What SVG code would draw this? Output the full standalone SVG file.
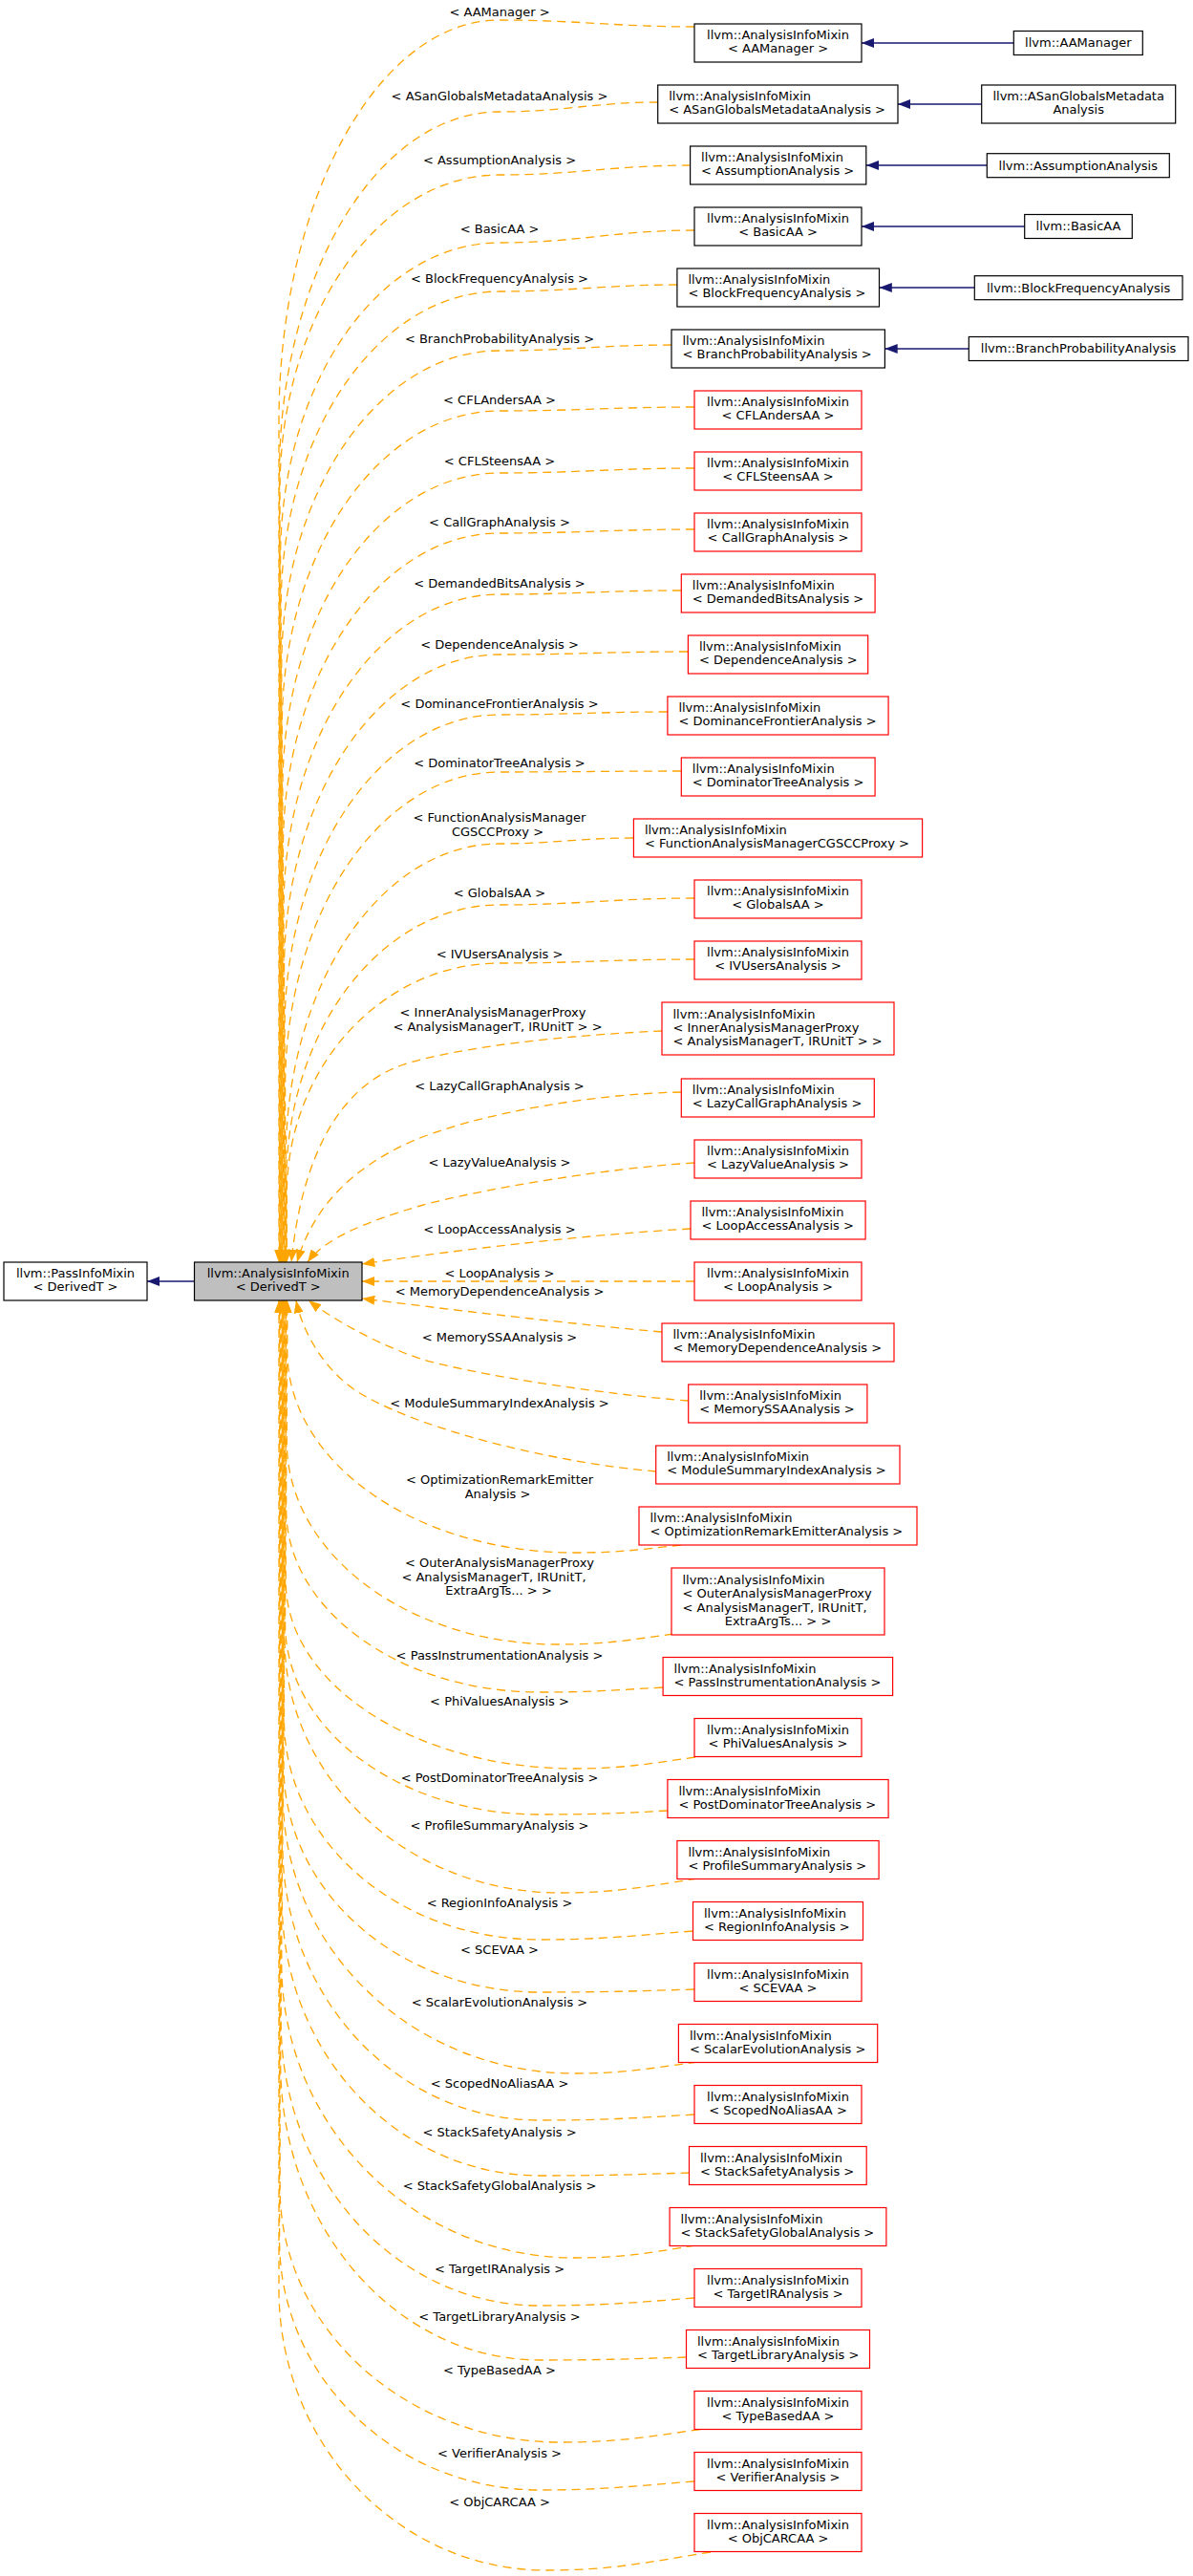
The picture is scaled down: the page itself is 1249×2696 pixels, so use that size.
<svg xmlns="http://www.w3.org/2000/svg" width="1249" height="2696" viewBox="0 0 1249 2696">
<style>
text{font-family:"DejaVu Sans","Liberation Sans",sans-serif;font-size:13px;fill:#000}
.m{text-anchor:middle}
.nb{fill:#fff;stroke:#000;stroke-width:1.2}
.nr{fill:#fff;stroke:#f00;stroke-width:1.2}
.nc{fill:#bfbfbf;stroke:#000;stroke-width:1.2}
.e{fill:none;stroke:#ffa500;stroke-width:1.3;stroke-dasharray:9,6;marker-end:url(#ao)}
.b{fill:none;stroke:#191970;stroke-width:1.3;marker-end:url(#ab)}
</style>
<defs>
<marker id="ao" viewBox="0 0 14 10" refX="13.3" refY="5" markerWidth="14" markerHeight="10" markerUnits="userSpaceOnUse" orient="auto"><path d="M0,0 L13.3,5 L0,10 Z" fill="#ffa500"/></marker>
<marker id="ab" viewBox="0 0 14 10" refX="13.3" refY="5" markerWidth="14" markerHeight="10" markerUnits="userSpaceOnUse" orient="auto"><path d="M0,0 L13.3,5 L0,10 Z" fill="#191970"/></marker>
</defs>
<rect width="1249" height="2696" fill="#fff"/>
<g id="connectors">
<path class="e" d="M727,28 C645,28 605,21 523,21 C396,21 292,209 292,441 L292,1321"/>
<path class="e" d="M689,107 C623,107 589,117 523,117 C396,117 292.5,287 292.5,497 L292.5,1321"/>
<path class="e" d="M723,173 C643,173 603,183 523,183 C396,183 293,331 293,513 L293,1321"/>
<path class="e" d="M727,241 C645,241 605,254 523,254 C396,254 293.6,402 293.6,584 L293.6,1321"/>
<path class="e" d="M709,298 C635,298 597,305 523,305 C397,305 294.2,453 294.2,635 L294.2,1321"/>
<path class="e" d="M703,361 C631,361 595,367 523,367 C397,367 294.8,515 294.8,697 L294.8,1321"/>
<path class="e" d="M727,426 C645,426 605,430 523,430 C397,430 295.3,578 295.3,760 L295.3,1321"/>
<path class="e" d="M727,490 C645,490 605,495 523,495 C397,495 295.9,643 295.9,825 L295.9,1321"/>
<path class="e" d="M727,554 C645,554 605,558 523,558 C398,558 296.4,706 296.4,888 L296.4,1321"/>
<path class="e" d="M713,618 C637,618 599,622 523,622 C398,622 297,770 297,952 L297,1321"/>
<path class="e" d="M720,682 C641,682 602,685 523,685 C398,685 297.5,833 297.5,1015 L297.5,1321"/>
<path class="e" d="M699,745 C629,745 593,748 523,748 C398,748 298,896 298,1078 L298,1321"/>
<path class="e" d="M713,807 C637,807 599,808 523,808 C399,808 298.6,956 298.6,1138 L298.6,1321"/>
<path class="e" d="M663,877 C607,877 579,883 523,883 C399,883 299.2,1031 299.2,1213 L299.2,1321"/>
<path class="e" d="M727,940 C645,940 605,947 523,947 C400,947 299.7,1077 299.7,1238 L299.7,1321"/>
<path class="e" d="M727,1004 C645,1004 605,1008 523,1008 C400,1008 300.3,1117 300.3,1250 L300.3,1321"/>
<path class="e" d="M693,1079 C600,1083 480,1095 420,1115 C350,1140 315,1220 305,1321"/>
<path class="e" d="M713,1143 C620,1145 500,1165 430,1195 C370,1222 328,1262 311,1321"/>
<path class="e" d="M727,1217 C640,1222 500,1245 440,1262 C385,1278 340,1296 322,1321"/>
<path class="e" d="M723,1286 C600,1293 450,1312 379,1323"/>
<path class="e" d="M727,1341 L379,1341"/>
<path class="e" d="M693,1394 C600,1386 450,1368 379,1359"/>
<path class="e" d="M721,1466 C640,1460 500,1440 440,1422 C390,1405 345,1378 323,1361"/>
<path class="e" d="M687,1540 C590,1532 450,1500 380,1460 C345,1440 318,1400 310,1361"/>
<path class="e" d="M713,1617 C669,1622 646,1625 602,1625 C436,1625 300.8,1531 300.8,1414 L300.8,1361"/>
<path class="e" d="M705,1710 C656,1717 632,1721 583.5,1721 C427,1721 300.3,1626 300.3,1509 L300.3,1361"/>
<path class="e" d="M694,1766 C642,1769 617,1771 565,1771 C419,1771 299.7,1685 299.7,1580 L299.7,1361"/>
<path class="e" d="M728,1839 C678,1846 652,1851 602,1851 C435,1851 299.2,1763 299.2,1655 L299.2,1361"/>
<path class="e" d="M699,1895 C645,1898 619,1899 565,1899 C418,1899 298.6,1810 298.6,1699 L298.6,1361"/>
<path class="e" d="M730,1966 C673,1975 644,1981 587,1981 C428,1981 298,1862 298,1715 L298,1361"/>
<path class="e" d="M725.5,2021 C661,2026 629,2030 565,2030 C417,2030 297.5,1927 297.5,1800 L297.5,1361"/>
<path class="e" d="M727,2082 C662,2084 630,2085 565,2085 C417,2085 297,1979 297,1848 L297,1361"/>
<path class="e" d="M730,2158 C679,2165 653,2170 602,2170 C433,2170 296.4,2040 296.4,1880 L296.4,1361"/>
<path class="e" d="M727,2213 C662,2217 630,2219 565,2219 C416,2219 295.9,2090 295.9,1931 L295.9,1361"/>
<path class="e" d="M722,2274 C659,2276 628,2277 565,2277 C416,2277 295.3,2148 295.3,1990 L295.3,1361"/>
<path class="e" d="M728,2350 C678,2358 652,2363 602,2363 C432,2363 294.8,2225 294.8,2055 L294.8,1361"/>
<path class="e" d="M727,2405 C662,2410 630,2413 565,2413 C415,2413 294.2,2280 294.2,2116 L294.2,1361"/>
<path class="e" d="M718.5,2467 C657,2469 626,2470 565,2470 C415,2470 293.7,2331 293.7,2160 L293.7,1361"/>
<path class="e" d="M733,2542.5 C675,2551 645,2556 587,2556 C425,2556 293.1,2437 293.1,2290 L293.1,1361"/>
<path class="e" d="M727,2597 C662,2602 630,2606 565,2606 C415,2606 292.6,2489 292.6,2345 L292.6,1361"/>
<path class="e" d="M744,2671 C675,2682 641,2690 572,2690 C417,2690 292,2558 292,2396 L292,1361"/>
<path class="b" d="M1061,45 L902,45"/>
<path class="b" d="M1028,109 L940,109"/>
<path class="b" d="M1033,173 L907,173"/>
<path class="b" d="M1073,237 L902,237"/>
<path class="b" d="M1020,301 L920.5,301"/>
<path class="b" d="M1014,365 L926.4,365"/>
<path class="b" d="M203.5,1341 L154,1341"/>
</g>
<g id="edge-labels" class="m">
<text class="m" x="523" y="16.7">&lt; AAManager &gt;</text>
<text class="m" x="523" y="105.2">&lt; ASanGlobalsMetadataAnalysis &gt;</text>
<text class="m" x="523" y="171.9">&lt; AssumptionAnalysis &gt;</text>
<text class="m" x="523" y="243.9">&lt; BasicAA &gt;</text>
<text class="m" x="523" y="296.2">&lt; BlockFrequencyAnalysis &gt;</text>
<text class="m" x="523" y="358.9">&lt; BranchProbabilityAnalysis &gt;</text>
<text class="m" x="523" y="422.9">&lt; CFLAndersAA &gt;</text>
<text class="m" x="523" y="486.9">&lt; CFLSteensAA &gt;</text>
<text class="m" x="523" y="550.9">&lt; CallGraphAnalysis &gt;</text>
<text class="m" x="523" y="614.9">&lt; DemandedBitsAnalysis &gt;</text>
<text class="m" x="523" y="678.9">&lt; DependenceAnalysis &gt;</text>
<text class="m" x="523" y="740.9">&lt; DominanceFrontierAnalysis &gt;</text>
<text class="m" x="523" y="802.9">&lt; DominatorTreeAnalysis &gt;</text>
<text class="m" x="523" y="860.2">&lt; FunctionAnalysisManager</text>
<text class="m" x="521" y="874.6">CGSCCProxy &gt;</text>
<text class="m" x="523" y="938.9">&lt; GlobalsAA &gt;</text>
<text class="m" x="523" y="1002.9">&lt; IVUsersAnalysis &gt;</text>
<text class="m" x="516" y="1064.2">&lt; InnerAnalysisManagerProxy</text>
<text class="m" x="521" y="1078.6">&lt; AnalysisManagerT, IRUnitT &gt; &gt;</text>
<text class="m" x="523" y="1140.9">&lt; LazyCallGraphAnalysis &gt;</text>
<text class="m" x="523" y="1220.9">&lt; LazyValueAnalysis &gt;</text>
<text class="m" x="523" y="1291.2">&lt; LoopAccessAnalysis &gt;</text>
<text class="m" x="523" y="1337.2">&lt; LoopAnalysis &gt;</text>
<text class="m" x="523" y="1356.2">&lt; MemoryDependenceAnalysis &gt;</text>
<text class="m" x="523" y="1403.9">&lt; MemorySSAAnalysis &gt;</text>
<text class="m" x="523" y="1472.9">&lt; ModuleSummaryIndexAnalysis &gt;</text>
<text class="m" x="523" y="1553.2">&lt; OptimizationRemarkEmitter</text>
<text class="m" x="521" y="1567.6">Analysis &gt;</text>
<text class="m" x="523" y="1640.2">&lt; OuterAnalysisManagerProxy</text>
<text class="m" x="517" y="1654.6">&lt; AnalysisManagerT, IRUnitT,</text>
<text class="m" x="522" y="1669">ExtraArgTs... &gt; &gt;</text>
<text class="m" x="523" y="1736.9">&lt; PassInstrumentationAnalysis &gt;</text>
<text class="m" x="523" y="1784.9">&lt; PhiValuesAnalysis &gt;</text>
<text class="m" x="523" y="1864.9">&lt; PostDominatorTreeAnalysis &gt;</text>
<text class="m" x="523" y="1914.9">&lt; ProfileSummaryAnalysis &gt;</text>
<text class="m" x="523" y="1995.9">&lt; RegionInfoAnalysis &gt;</text>
<text class="m" x="523" y="2044.5">&lt; SCEVAA &gt;</text>
<text class="m" x="523" y="2099.9">&lt; ScalarEvolutionAnalysis &gt;</text>
<text class="m" x="523" y="2184.9">&lt; ScopedNoAliasAA &gt;</text>
<text class="m" x="523" y="2235.9">&lt; StackSafetyAnalysis &gt;</text>
<text class="m" x="523" y="2291.9">&lt; StackSafetyGlobalAnalysis &gt;</text>
<text class="m" x="523" y="2378.9">&lt; TargetIRAnalysis &gt;</text>
<text class="m" x="523" y="2428.9">&lt; TargetLibraryAnalysis &gt;</text>
<text class="m" x="523" y="2484.9">&lt; TypeBasedAA &gt;</text>
<text class="m" x="523" y="2571.9">&lt; VerifierAnalysis &gt;</text>
<text class="m" x="523" y="2622.9">&lt; ObjCARCAA &gt;</text>
</g>
<g id="n_passinfomixin"><rect class="nb" x="4" y="1321" width="150" height="40"/><text class="m" x="79" y="1337">llvm::PassInfoMixin</text><text class="m" x="79" y="1351.4">&lt; DerivedT &gt;</text></g>
<g id="n_analysisinfomixin"><rect class="nc" x="203.5" y="1321" width="175.5" height="40"/><text class="m" x="291.2" y="1337">llvm::AnalysisInfoMixin</text><text class="m" x="291.2" y="1351.4">&lt; DerivedT &gt;</text></g>
<g id="n_aamanager_mixin"><rect class="nb" x="727" y="25" width="175" height="40"/><text class="m" x="814.5" y="41">llvm::AnalysisInfoMixin</text><text class="m" x="814.5" y="55.4">&lt; AAManager &gt;</text></g>
<g id="n_asan_mixin"><rect class="nb" x="688.7" y="89" width="251.3" height="40"/><text x="700.2" y="105">llvm::AnalysisInfoMixin</text><text x="700.2" y="119.4">&lt; ASanGlobalsMetadataAnalysis &gt;</text></g>
<g id="n_assumption_mixin"><rect class="nb" x="722.6" y="153" width="184.2" height="40"/><text x="734.1" y="169">llvm::AnalysisInfoMixin</text><text x="734.1" y="183.4">&lt; AssumptionAnalysis &gt;</text></g>
<g id="n_basicaa_mixin"><rect class="nb" x="727" y="217" width="175" height="40"/><text class="m" x="814.5" y="233">llvm::AnalysisInfoMixin</text><text class="m" x="814.5" y="247.4">&lt; BasicAA &gt;</text></g>
<g id="n_blockfreq_mixin"><rect class="nb" x="708.9" y="281" width="211.6" height="40"/><text x="720.4" y="297">llvm::AnalysisInfoMixin</text><text x="720.4" y="311.4">&lt; BlockFrequencyAnalysis &gt;</text></g>
<g id="n_branchprob_mixin"><rect class="nb" x="703" y="345" width="223.4" height="40"/><text x="714.5" y="361">llvm::AnalysisInfoMixin</text><text x="714.5" y="375.4">&lt; BranchProbabilityAnalysis &gt;</text></g>
<g id="n_cflanders"><rect class="nr" x="727" y="409" width="175" height="40"/><text class="m" x="814.5" y="425">llvm::AnalysisInfoMixin</text><text class="m" x="814.5" y="439.4">&lt; CFLAndersAA &gt;</text></g>
<g id="n_cflsteens"><rect class="nr" x="727" y="473" width="175" height="40"/><text class="m" x="814.5" y="489">llvm::AnalysisInfoMixin</text><text class="m" x="814.5" y="503.4">&lt; CFLSteensAA &gt;</text></g>
<g id="n_callgraph"><rect class="nr" x="727" y="537" width="175" height="40"/><text class="m" x="814.5" y="553">llvm::AnalysisInfoMixin</text><text class="m" x="814.5" y="567.4">&lt; CallGraphAnalysis &gt;</text></g>
<g id="n_demandedbits"><rect class="nr" x="713.3" y="601" width="202.8" height="40"/><text x="724.8" y="617">llvm::AnalysisInfoMixin</text><text x="724.8" y="631.4">&lt; DemandedBitsAnalysis &gt;</text></g>
<g id="n_dependence"><rect class="nr" x="720.4" y="665" width="188.3" height="40"/><text x="731.9" y="681">llvm::AnalysisInfoMixin</text><text x="731.9" y="695.4">&lt; DependenceAnalysis &gt;</text></g>
<g id="n_domfrontier"><rect class="nr" x="698.9" y="729" width="231.2" height="40"/><text x="710.4" y="745">llvm::AnalysisInfoMixin</text><text x="710.4" y="759.4">&lt; DominanceFrontierAnalysis &gt;</text></g>
<g id="n_domtree"><rect class="nr" x="713.3" y="793" width="202.8" height="40"/><text x="724.8" y="809">llvm::AnalysisInfoMixin</text><text x="724.8" y="823.4">&lt; DominatorTreeAnalysis &gt;</text></g>
<g id="n_famcgsccproxy"><rect class="nr" x="663.4" y="857" width="302.2" height="40"/><text x="674.9" y="873">llvm::AnalysisInfoMixin</text><text x="674.9" y="887.4">&lt; FunctionAnalysisManagerCGSCCProxy &gt;</text></g>
<g id="n_globalsaa"><rect class="nr" x="727" y="921" width="175" height="40"/><text class="m" x="814.5" y="937">llvm::AnalysisInfoMixin</text><text class="m" x="814.5" y="951.4">&lt; GlobalsAA &gt;</text></g>
<g id="n_ivusers"><rect class="nr" x="727" y="985" width="175" height="40"/><text class="m" x="814.5" y="1001">llvm::AnalysisInfoMixin</text><text class="m" x="814.5" y="1015.4">&lt; IVUsersAnalysis &gt;</text></g>
<g id="n_innerproxy"><rect class="nr" x="693" y="1049" width="243" height="55"/><text x="704.5" y="1065.6">llvm::AnalysisInfoMixin</text><text x="704.5" y="1080">&lt; InnerAnalysisManagerProxy</text><text x="704.5" y="1094.4">&lt; AnalysisManagerT, IRUnitT &gt; &gt;</text></g>
<g id="n_lazycallgraph"><rect class="nr" x="713.3" y="1129" width="202" height="40"/><text x="724.8" y="1145">llvm::AnalysisInfoMixin</text><text x="724.8" y="1159.4">&lt; LazyCallGraphAnalysis &gt;</text></g>
<g id="n_lazyvalue"><rect class="nr" x="727" y="1193" width="175" height="40"/><text class="m" x="814.5" y="1209">llvm::AnalysisInfoMixin</text><text class="m" x="814.5" y="1223.4">&lt; LazyValueAnalysis &gt;</text></g>
<g id="n_loopaccess"><rect class="nr" x="723" y="1257" width="183.1" height="40"/><text x="734.5" y="1273">llvm::AnalysisInfoMixin</text><text x="734.5" y="1287.4">&lt; LoopAccessAnalysis &gt;</text></g>
<g id="n_loop"><rect class="nr" x="727" y="1321" width="175" height="40"/><text class="m" x="814.5" y="1337">llvm::AnalysisInfoMixin</text><text class="m" x="814.5" y="1351.4">&lt; LoopAnalysis &gt;</text></g>
<g id="n_memdep"><rect class="nr" x="693" y="1385" width="243" height="40"/><text x="704.5" y="1401">llvm::AnalysisInfoMixin</text><text x="704.5" y="1415.4">&lt; MemoryDependenceAnalysis &gt;</text></g>
<g id="n_memoryssa"><rect class="nr" x="720.7" y="1449" width="187.2" height="40"/><text x="732.2" y="1465">llvm::AnalysisInfoMixin</text><text x="732.2" y="1479.4">&lt; MemorySSAAnalysis &gt;</text></g>
<g id="n_modulesummary"><rect class="nr" x="686.7" y="1513" width="255.3" height="40"/><text x="698.2" y="1529">llvm::AnalysisInfoMixin</text><text x="698.2" y="1543.4">&lt; ModuleSummaryIndexAnalysis &gt;</text></g>
<g id="n_ore"><rect class="nr" x="669" y="1577" width="291" height="40"/><text x="680.5" y="1593">llvm::AnalysisInfoMixin</text><text x="680.5" y="1607.4">&lt; OptimizationRemarkEmitterAnalysis &gt;</text></g>
<g id="n_outerproxy"><rect class="nr" x="703" y="1641" width="223" height="70"/><text x="714.5" y="1657.9">llvm::AnalysisInfoMixin</text><text x="714.5" y="1672.3">&lt; OuterAnalysisManagerProxy</text><text x="714.5" y="1686.7">&lt; AnalysisManagerT, IRUnitT,</text><text class="m" x="814.5" y="1701.1">ExtraArgTs... &gt; &gt;</text></g>
<g id="n_passinstr"><rect class="nr" x="694.1" y="1734.5" width="240.5" height="40"/><text x="705.6" y="1750.5">llvm::AnalysisInfoMixin</text><text x="705.6" y="1764.9">&lt; PassInstrumentationAnalysis &gt;</text></g>
<g id="n_phivalues"><rect class="nr" x="727" y="1798.5" width="175" height="40"/><text class="m" x="814.5" y="1814.5">llvm::AnalysisInfoMixin</text><text class="m" x="814.5" y="1828.9">&lt; PhiValuesAnalysis &gt;</text></g>
<g id="n_postdomtree"><rect class="nr" x="698.9" y="1862.5" width="231.2" height="40"/><text x="710.4" y="1878.5">llvm::AnalysisInfoMixin</text><text x="710.4" y="1892.9">&lt; PostDominatorTreeAnalysis &gt;</text></g>
<g id="n_profilesummary"><rect class="nr" x="708.9" y="1926.5" width="211.2" height="40"/><text x="720.4" y="1942.5">llvm::AnalysisInfoMixin</text><text x="720.4" y="1956.9">&lt; ProfileSummaryAnalysis &gt;</text></g>
<g id="n_regioninfo"><rect class="nr" x="725.5" y="1990.5" width="178" height="40"/><text x="737" y="2006.5">llvm::AnalysisInfoMixin</text><text x="737" y="2020.9">&lt; RegionInfoAnalysis &gt;</text></g>
<g id="n_scevaa"><rect class="nr" x="727" y="2054.5" width="175" height="40"/><text class="m" x="814.5" y="2070.5">llvm::AnalysisInfoMixin</text><text class="m" x="814.5" y="2084.9">&lt; SCEVAA &gt;</text></g>
<g id="n_scalarevolution"><rect class="nr" x="710.4" y="2118.5" width="208.3" height="40"/><text x="721.9" y="2134.5">llvm::AnalysisInfoMixin</text><text x="721.9" y="2148.9">&lt; ScalarEvolutionAnalysis &gt;</text></g>
<g id="n_scopednoalias"><rect class="nr" x="727" y="2182.5" width="175" height="40"/><text class="m" x="814.5" y="2198.5">llvm::AnalysisInfoMixin</text><text class="m" x="814.5" y="2212.9">&lt; ScopedNoAliasAA &gt;</text></g>
<g id="n_stacksafety"><rect class="nr" x="721.5" y="2246.5" width="185.7" height="40"/><text x="733" y="2262.5">llvm::AnalysisInfoMixin</text><text x="733" y="2276.9">&lt; StackSafetyAnalysis &gt;</text></g>
<g id="n_stacksafetyglobal"><rect class="nr" x="701.1" y="2310.5" width="226.8" height="40"/><text x="712.6" y="2326.5">llvm::AnalysisInfoMixin</text><text x="712.6" y="2340.9">&lt; StackSafetyGlobalAnalysis &gt;</text></g>
<g id="n_targetir"><rect class="nr" x="727" y="2374.5" width="175" height="40"/><text class="m" x="814.5" y="2390.5">llvm::AnalysisInfoMixin</text><text class="m" x="814.5" y="2404.9">&lt; TargetIRAnalysis &gt;</text></g>
<g id="n_targetlibrary"><rect class="nr" x="718.5" y="2438.5" width="192" height="40"/><text x="730" y="2454.5">llvm::AnalysisInfoMixin</text><text x="730" y="2468.9">&lt; TargetLibraryAnalysis &gt;</text></g>
<g id="n_typebasedaa"><rect class="nr" x="727" y="2502.5" width="175" height="40"/><text class="m" x="814.5" y="2518.5">llvm::AnalysisInfoMixin</text><text class="m" x="814.5" y="2532.9">&lt; TypeBasedAA &gt;</text></g>
<g id="n_verifier"><rect class="nr" x="727" y="2566.5" width="175" height="40"/><text class="m" x="814.5" y="2582.5">llvm::AnalysisInfoMixin</text><text class="m" x="814.5" y="2596.9">&lt; VerifierAnalysis &gt;</text></g>
<g id="n_objcarcaa"><rect class="nr" x="727" y="2630.5" width="175" height="40"/><text class="m" x="814.5" y="2646.5">llvm::AnalysisInfoMixin</text><text class="m" x="814.5" y="2660.9">&lt; ObjCARCAA &gt;</text></g>
<g id="n_aamanager"><rect class="nb" x="1061.3" y="32.5" width="135" height="25"/><text class="m" x="1128.8" y="49.3">llvm::AAManager</text></g>
<g id="n_asanglobals"><rect class="nb" x="1027.7" y="89" width="203" height="40"/><text class="m" x="1129.2" y="105">llvm::ASanGlobalsMetadata</text><text class="m" x="1129.2" y="119.4">Analysis</text></g>
<g id="n_assumption"><rect class="nb" x="1033.3" y="160.7" width="191" height="25"/><text class="m" x="1128.8" y="177.5">llvm::AssumptionAnalysis</text></g>
<g id="n_basicaa"><rect class="nb" x="1072.7" y="224.5" width="112.6" height="25"/><text class="m" x="1129" y="241.3">llvm::BasicAA</text></g>
<g id="n_blockfreq"><rect class="nb" x="1020.3" y="288.7" width="217.7" height="25"/><text class="m" x="1129.1" y="305.5">llvm::BlockFrequencyAnalysis</text></g>
<g id="n_branchprob"><rect class="nb" x="1014.3" y="352.5" width="229.7" height="25"/><text class="m" x="1129.1" y="369.3">llvm::BranchProbabilityAnalysis</text></g>
</svg>
